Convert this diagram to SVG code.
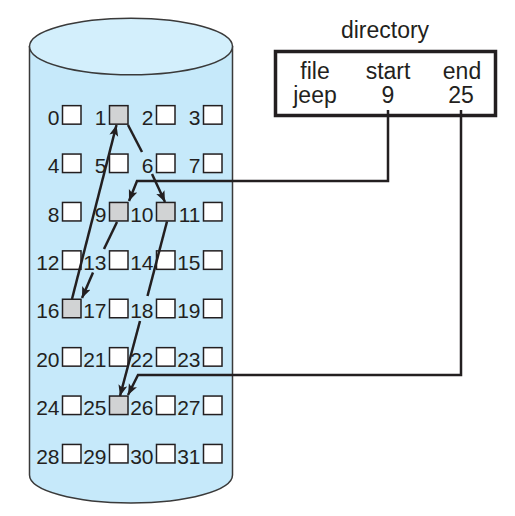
<svg xmlns="http://www.w3.org/2000/svg" width="515" height="516" viewBox="0 0 515 516">
<defs>
<style>
.num{font-family:"Liberation Sans",Arial,sans-serif;font-size:21px;fill:#231f20;text-anchor:end}
.lbl{font-family:"Liberation Sans",Arial,sans-serif;font-size:23px;fill:#231f20;text-anchor:middle}
.blk{fill:#ffffff;stroke:#231f20;stroke-width:1.5}
.used{fill:#d1d3d4}
.conn{fill:none;stroke:#231f20;stroke-width:2.5;stroke-linejoin:miter}
</style>
<marker id="ah" markerUnits="userSpaceOnUse" markerWidth="12" markerHeight="10" refX="11" refY="4.5" orient="auto" viewBox="0 0 12 10">
<path d="M0,0 L11,4.5 L0,9 L2.5,4.5 z" fill="#231f20"/>
</marker>
</defs>
<g id="disk">
<path d="M29.5,46.5 L29.5,475 A101.5,28 0 0 0 232.5,475 L232.5,46.5 Z" fill="#c6e9fa" stroke="#3a3a3a" stroke-width="1.5"/>
<ellipse cx="131" cy="46.5" rx="101.5" ry="28.3" fill="#d3effc" stroke="#3a3a3a" stroke-width="1.5"/>
</g>
<g id="blocks">
<g id="b0"><text class="num" x="59.5" y="124.7">0</text><rect class="blk" x="62.5" y="105.65" width="18.5" height="18.5"/></g>
<g id="b1"><text class="num" x="106.5" y="124.7">1</text><rect class="blk used" x="109.5" y="105.65" width="18.5" height="18.5"/></g>
<g id="b2"><text class="num" x="153.5" y="124.7">2</text><rect class="blk" x="156.5" y="105.65" width="18.5" height="18.5"/></g>
<g id="b3"><text class="num" x="200.5" y="124.7">3</text><rect class="blk" x="203.5" y="105.65" width="18.5" height="18.5"/></g>
<g id="b4"><text class="num" x="59.5" y="173.1">4</text><rect class="blk" x="62.5" y="154.05" width="18.5" height="18.5"/></g>
<g id="b5"><text class="num" x="106.5" y="173.1">5</text><rect class="blk" x="109.5" y="154.05" width="18.5" height="18.5"/></g>
<g id="b6"><text class="num" x="153.5" y="173.1">6</text><rect class="blk" x="156.5" y="154.05" width="18.5" height="18.5"/></g>
<g id="b7"><text class="num" x="200.5" y="173.1">7</text><rect class="blk" x="203.5" y="154.05" width="18.5" height="18.5"/></g>
<g id="b8"><text class="num" x="59.5" y="221.5">8</text><rect class="blk" x="62.5" y="202.45" width="18.5" height="18.5"/></g>
<g id="b9"><text class="num" x="106.5" y="221.5">9</text><rect class="blk used" x="109.5" y="202.45" width="18.5" height="18.5"/></g>
<g id="b10"><text class="num" x="153.5" y="221.5">10</text><rect class="blk used" x="156.5" y="202.45" width="18.5" height="18.5"/></g>
<g id="b11"><text class="num" x="200.5" y="221.5">11</text><rect class="blk" x="203.5" y="202.45" width="18.5" height="18.5"/></g>
<g id="b12"><text class="num" x="59.5" y="269.9">12</text><rect class="blk" x="62.5" y="250.85" width="18.5" height="18.5"/></g>
<g id="b13"><text class="num" x="106.5" y="269.9">13</text><rect class="blk" x="109.5" y="250.85" width="18.5" height="18.5"/></g>
<g id="b14"><text class="num" x="153.5" y="269.9">14</text><rect class="blk" x="156.5" y="250.85" width="18.5" height="18.5"/></g>
<g id="b15"><text class="num" x="200.5" y="269.9">15</text><rect class="blk" x="203.5" y="250.85" width="18.5" height="18.5"/></g>
<g id="b16"><text class="num" x="59.5" y="318.3">16</text><rect class="blk used" x="62.5" y="299.25" width="18.5" height="18.5"/></g>
<g id="b17"><text class="num" x="106.5" y="318.3">17</text><rect class="blk" x="109.5" y="299.25" width="18.5" height="18.5"/></g>
<g id="b18"><text class="num" x="153.5" y="318.3">18</text><rect class="blk" x="156.5" y="299.25" width="18.5" height="18.5"/></g>
<g id="b19"><text class="num" x="200.5" y="318.3">19</text><rect class="blk" x="203.5" y="299.25" width="18.5" height="18.5"/></g>
<g id="b20"><text class="num" x="59.5" y="366.7">20</text><rect class="blk" x="62.5" y="347.65" width="18.5" height="18.5"/></g>
<g id="b21"><text class="num" x="106.5" y="366.7">21</text><rect class="blk" x="109.5" y="347.65" width="18.5" height="18.5"/></g>
<g id="b22"><text class="num" x="153.5" y="366.7">22</text><rect class="blk" x="156.5" y="347.65" width="18.5" height="18.5"/></g>
<g id="b23"><text class="num" x="200.5" y="366.7">23</text><rect class="blk" x="203.5" y="347.65" width="18.5" height="18.5"/></g>
<g id="b24"><text class="num" x="59.5" y="415.1">24</text><rect class="blk" x="62.5" y="396.05" width="18.5" height="18.5"/></g>
<g id="b25"><text class="num" x="106.5" y="415.1">25</text><rect class="blk used" x="109.5" y="396.05" width="18.5" height="18.5"/></g>
<g id="b26"><text class="num" x="153.5" y="415.1">26</text><rect class="blk" x="156.5" y="396.05" width="18.5" height="18.5"/></g>
<g id="b27"><text class="num" x="200.5" y="415.1">27</text><rect class="blk" x="203.5" y="396.05" width="18.5" height="18.5"/></g>
<g id="b28"><text class="num" x="59.5" y="463.5">28</text><rect class="blk" x="62.5" y="444.45" width="18.5" height="18.5"/></g>
<g id="b29"><text class="num" x="106.5" y="463.5">29</text><rect class="blk" x="109.5" y="444.45" width="18.5" height="18.5"/></g>
<g id="b30"><text class="num" x="153.5" y="463.5">30</text><rect class="blk" x="156.5" y="444.45" width="18.5" height="18.5"/></g>
<g id="b31"><text class="num" x="200.5" y="463.5">31</text><rect class="blk" x="203.5" y="444.45" width="18.5" height="18.5"/></g>
</g>
<g id="directory">
<text class="lbl" x="385" y="38" font-size="22">directory</text>
<rect x="275.5" y="51.5" width="220" height="64" fill="#ffffff" stroke="#231f20" stroke-width="3.5"/>
<text class="lbl" x="315" y="79">file</text>
<text class="lbl" x="388" y="79">start</text>
<text class="lbl" x="462" y="79">end</text>
<text class="lbl" x="315" y="103">jeep</text>
<text class="lbl" x="388" y="103">9</text>
<text class="lbl" x="461" y="103">25</text>
</g>
<g id="connectors">
<polyline class="conn" points="388,110 388,181 137,181 129,201" marker-end="url(#ah)"/>
<polyline class="conn" points="461,110 461,375 138,375 128,395" marker-end="url(#ah)"/>
<line class="conn" x1="117" y1="222" x2="104" y2="249"/>
<line class="conn" x1="93" y1="272.5" x2="82" y2="298" marker-end="url(#ah)"/>
<line class="conn" x1="72" y1="299" x2="116.5" y2="125" marker-end="url(#ah)"/>
<line class="conn" x1="128" y1="125" x2="142" y2="152"/>
<line class="conn" x1="152" y1="174" x2="165" y2="202" marker-end="url(#ah)"/>
<line class="conn" x1="167" y1="221.5" x2="147.5" y2="296"/>
<line class="conn" x1="140" y1="321" x2="120" y2="396" marker-end="url(#ah)"/>
</g>
</svg>
